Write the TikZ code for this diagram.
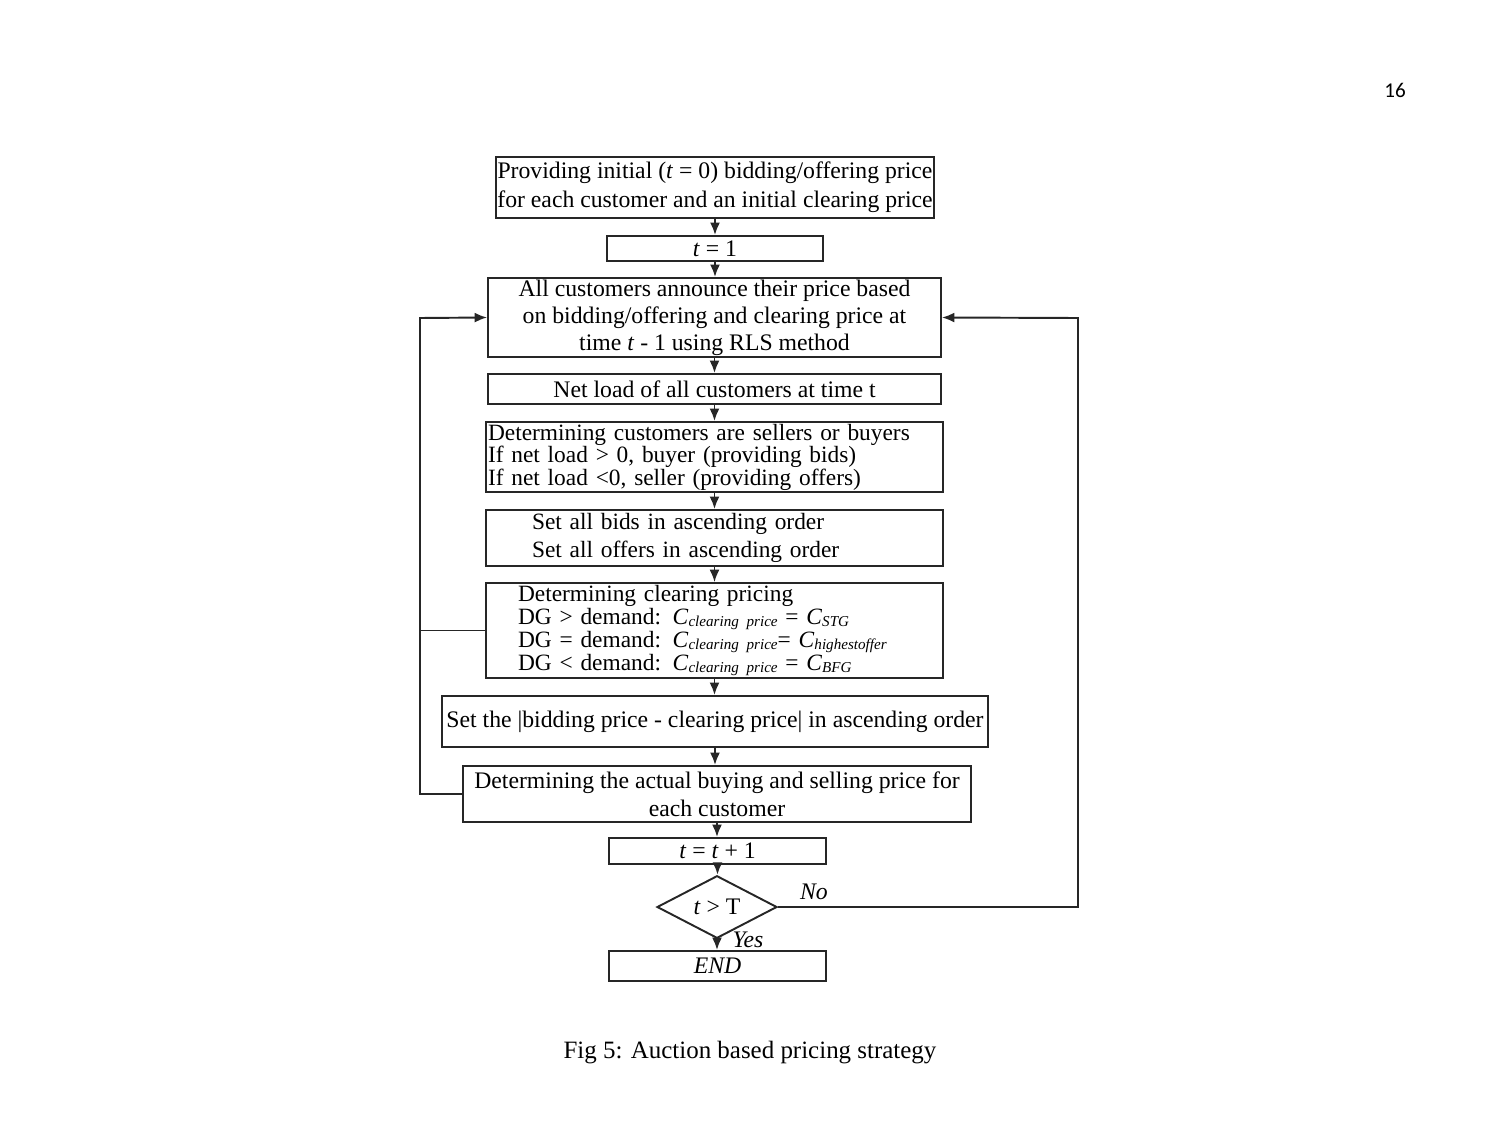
\documentclass[tikz,border=0pt]{standalone}
\usepackage{fontspec}
\setmainfont{Liberation Serif}
\newfontfamily\pagefont{Carlito}
\usetikzlibrary{shapes.geometric, arrows.meta}

\begin{document}
\begin{tikzpicture}[x=0.02cm, y=-0.02cm, >={Latex[length=2.5mm, width=2mm]}]

        % Styles
        \tikzset{
            box/.style={draw=black!85, line width=1.1pt, align=center, inner sep=1pt, font=\fontsize{13.5}{16.5}\selectfont},
            leftbox/.style={box, align=left, font=\fontsize{13.3}{12.8}\selectfont},
            decision/.style={draw=black!85, line width=1.1pt, diamond, inner sep=0pt, minimum width=2.4cm, minimum height=1.08cm, font=\fontsize{13.5}{14}\selectfont},
            arrow/.style={->, line width=1.1pt, draw=black!85},
            loopline/.style={line width=1.1pt, draw=black!85}
        }
        \newcommand{\csub}[1]{\textit{C}\raisebox{-0.2ex}{\fontsize{8.6}{9}\selectfont\itshape #1}}

        \useasboundingbox (0,0) rectangle (1500,1125);

        % --- PAGE ---
        \node[font=\pagefont\fontsize{12}{14}\selectfont] (page) at (1395, 90) {16};

        % --- BOXES ---
        \node[box, minimum width=8.76cm, minimum height=1.22cm] (init) at (715, 187.5)
            {Providing initial (\textit{t} = 0) bidding/offering price\\for each customer and an initial clearing price};
        \node[box, minimum width=4.32cm, minimum height=0.5cm] (tone) at (715, 248.5) {\textit{t} = 1};
        \node[box, minimum width=9.06cm, minimum height=1.58cm, font=\fontsize{13.5}{15.3}\selectfont] (announce) at (714.5, 317.5)
            {All customers announce their price based\\on bidding/offering and clearing price at\\time \textit{t} - 1 using RLS method};
        \node[box, minimum width=9.06cm, minimum height=0.6cm] (netload) at (714.5, 389) {Net load of all customers at time t};
        \node[leftbox, inner xsep=0.04cm, text width=9.06cm, minimum height=1.4cm] (sellbuy) at (714.5, 457)
            {Determining customers are sellers or buyers\\If net load > 0, buyer (providing bids)\\If net load <0, seller (providing offers)};
        \node[leftbox, inner xsep=0.92cm, text width=7.3cm, minimum height=1.12cm, font=\fontsize{13.3}{15.5}\selectfont] (sort) at (714.5, 538)
            {Set all bids in ascending order\\Set all offers in ascending order};
        \node[leftbox, inner xsep=0.64cm, text width=7.86cm, minimum height=1.86cm, font=\fontsize{13.3}{11.9}\selectfont] (clearing) at (714.5, 630.5)
            {Determining clearing pricing\\
             DG > demand: \csub{clearing price} = \csub{STG}\\
             DG = demand: \csub{clearing price}= \csub{highestoffer}\\
             DG < demand: \csub{clearing price} = \csub{BFG}};
        \node[box, minimum width=10.92cm, minimum height=1.02cm] (absdiff) at (715, 721.5)
            {Set the |bidding price - clearing price| in ascending order};
        \node[box, minimum width=10.16cm, minimum height=1.12cm, font=\fontsize{13.5}{15.9}\selectfont] (actual) at (717, 794)
            {Determining the actual buying and selling price for\\each customer};
        \node[box, minimum width=4.34cm, minimum height=0.52cm] (tnext) at (717.5, 851) {\textit{t} = \textit{t} + 1};
        \node[decision] (check) at (717, 907) {\textit{t} > T};
        \node[box, minimum width=4.34cm, minimum height=0.6cm] (finish) at (717.5, 966) {\textit{END}};

        % --- CONNECTIONS ---
        \draw[arrow] (init.south) -- (init.south |- tone.north);
        \draw[arrow] (tone.south) -- (tone.south |- announce.north);
        \draw[arrow] (announce.south) -- (announce.south |- netload.north);
        \draw[arrow] (netload.south) -- (netload.south |- sellbuy.north);
        \draw[arrow] (sellbuy.south) -- (sellbuy.south |- sort.north);
        \draw[arrow] (sort.south) -- (sort.south |- clearing.north);
        \draw[arrow] (clearing.south) -- (clearing.south |- absdiff.north);
        \draw[arrow] (absdiff.south) -- (absdiff.south |- actual.north);
        \draw[arrow] (actual.south) -- (actual.south |- tnext.north);
        \draw[arrow] (tnext.south) -- (tnext.south |- check.north);
        \draw[arrow] (check.south) -- node[right, font=\fontsize{13.5}{14}\selectfont\itshape, xshift=5pt, yshift=2.5pt] {Yes} (check.south |- finish.north);

        % Feedback loops
        \coordinate (loopleft) at (420, 318);
        \coordinate (loopright) at (1078, 318);
        \draw[loopline] (clearing.west) -- (clearing.west -| loopleft);
        \draw[arrow] (actual.west) -| (loopleft) -- (announce.west);
        \draw[arrow] (check.east) -- node[pos=0.12, above, font=\fontsize{13.5}{14}\selectfont\itshape] {No} (check.east -| loopright) -- (loopright) -- (announce.east);

        % --- CAPTION ---
        \node[font=\fontsize{14.2}{16}\selectfont] (caption) at (750, 1053) {Fig 5: Auction based pricing strategy};

\end{tikzpicture}
\end{document}
